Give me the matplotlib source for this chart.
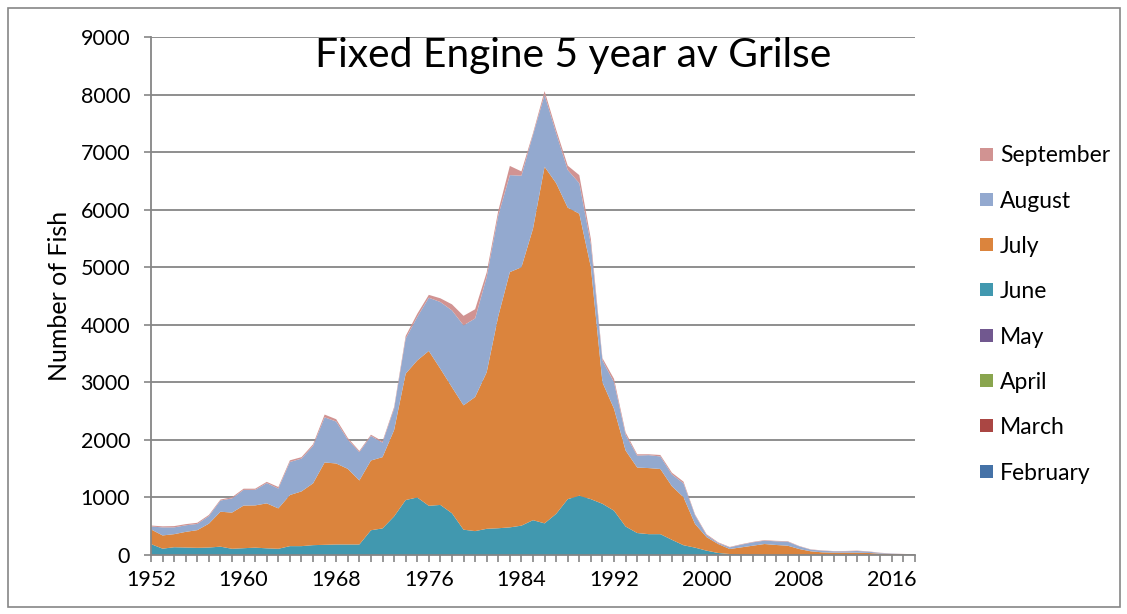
import matplotlib
matplotlib.use("Agg")
import matplotlib.pyplot as plt
from matplotlib.patches import Rectangle

years = list(range(1952, 2019))

february = [0, 0, 0, 0, 0, 0, 0, 0, 0, 0, 0, 0, 0, 0, 0, 0, 0, 0, 0, 0, 0, 0, 0, 0, 0, 0, 0, 0, 0, 0, 0, 0, 0, 0,
            0, 0, 0, 0, 0, 0, 0, 0, 0, 0, 0, 0, 0, 0, 0, 0, 0, 0, 0, 0, 0, 0, 0, 0, 0, 0, 0, 0, 0, 0, 0, 0, 0]
march = [0, 0, 0, 0, 0, 0, 0, 0, 0, 0, 0, 0, 0, 0, 0, 0, 0, 0, 0, 0, 0, 0, 0, 0, 0, 0, 0, 0, 0, 0, 0, 0, 0, 0,
         0, 0, 0, 0, 0, 0, 0, 0, 0, 0, 0, 0, 0, 0, 0, 0, 0, 0, 0, 0, 0, 0, 0, 0, 0, 0, 0, 0, 0, 0, 0, 0, 0]
april = [0, 0, 0, 0, 0, 0, 0, 0, 0, 0, 0, 0, 0, 0, 0, 0, 0, 0, 0, 0, 0, 0, 0, 0, 0, 0, 0, 0, 0, 0, 0, 0, 0, 0,
         0, 0, 0, 0, 0, 0, 0, 0, 0, 0, 0, 0, 0, 0, 0, 0, 0, 0, 0, 0, 0, 0, 0, 0, 0, 0, 0, 0, 0, 0, 0, 0, 0]
may = [0, 0, 0, 0, 0, 0, 0, 0, 0, 0, 0, 0, 0, 0, 0, 0, 0, 0, 0, 0, 0, 0, 0, 0, 0, 0, 0, 0, 0, 0, 0, 0, 0, 0,
       0, 0, 0, 0, 0, 0, 0, 0, 0, 0, 0, 0, 0, 0, 0, 0, 0, 0, 0, 0, 0, 0, 0, 0, 0, 0, 0, 0, 0, 0, 0, 0, 0]
june = [190, 110, 135, 130, 125, 130, 145, 108, 118, 128, 116, 108, 154, 154, 171, 177, 183, 183, 183, 430,
        462, 670, 955, 1000, 855, 870, 725, 440, 415, 455, 465, 480, 510, 605, 550, 715, 970, 1030, 970, 890,
        770, 495, 382, 362, 362, 264, 170, 128, 75, 35, 17, 10, 5, 3, 2, 2, 1, 0, 0, 0, 0, 0, 0, 0, 0, 0, 0]
july = [255, 230, 227, 272, 307, 415, 607, 629, 741, 734, 781, 702, 888, 951, 1074, 1431, 1407, 1314, 1112,
        1212, 1238, 1500, 2195, 2380, 2690, 2365, 2190, 2160, 2330, 2720, 3685, 4435, 4490, 5065, 6195, 5745,
        5065, 4900, 4030, 2110, 1770, 1320, 1138, 1148, 1133, 931, 835, 411, 235, 156, 87, 123, 157, 188, 172,
        160, 103, 64, 46, 41, 41, 41, 35, 23, 17, 12, 6]
august = [50, 140, 118, 114, 108, 131, 194, 247, 272, 270, 353, 345, 574, 570, 650, 784, 729, 508, 493, 427,
          253, 370, 610, 755, 925, 1160, 1335, 1390, 1365, 1655, 1750, 1685, 1590, 1630, 1250, 870, 655, 530,
          400, 380, 460, 275, 207, 225, 217, 205, 240, 151, 35, 18, 29, 47, 58, 58, 64, 70, 47, 29, 29, 23, 23,
          29, 23, 12, 6, 5, 6]
september = [17, 18, 22, 20, 20, 20, 17, 20, 21, 20, 21, 26, 29, 25, 29, 48, 40, 29, 20, 21, 23, 30, 45, 55,
             50, 65, 105, 165, 160, 80, 80, 160, 75, 30, 65, 60, 75, 140, 90, 40, 60, 40, 23, 15, 26, 30, 30,
             15, 15, 11, 7, 8, 8, 9, 8, 8, 6, 5, 5, 4, 6, 6, 5, 4, 3, 2, 1]

series_names = ["February", "March", "April", "May", "June", "July", "August", "September"]
series_colors = ["#4572A7", "#AA4643", "#89A54E", "#71588F", "#4198AF", "#DB843D", "#93A9CF", "#D19392"]
xtick_years = [1952, 1960, 1968, 1976, 1984, 1992, 2000, 2008, 2016]
ytick_vals = [0, 1000, 2000, 3000, 4000, 5000, 6000, 7000, 8000, 9000]

W, H = 1127, 614
FONT = "Lato"
GRAY = "#868686"

fig = plt.figure(figsize=(W / 100, H / 100), dpi=100)
fig.patch.set_facecolor("white")

# outer chart border
fig.patches.append(Rectangle((8 / W, 1 - 607 / H), (1120 - 8) / W, (607 - 8) / H,
                             transform=fig.transFigure, fill=False, edgecolor=GRAY, linewidth=1.2))

ax = fig.add_axes([151 / W, 1 - 555 / H, (915 - 151) / W, (555 - 37) / H])
ax.stackplot(years, february, march, april, may, june, july, august, september,
             colors=series_colors, linewidth=0, labels=series_names)

ax.set_xlim(1952, 2018)
ax.set_ylim(0, 9000)
ax.set_yticks(ytick_vals)
ax.set_yticklabels([str(v) for v in ytick_vals], fontfamily=FONT, fontsize=15.5)
ax.set_xticks(xtick_years)
ax.set_xticklabels([str(v) for v in xtick_years], fontfamily=FONT, fontsize=15.5)
ax.set_xticks(years, minor=True)

ax.yaxis.grid(True, color=GRAY, linewidth=1.3)
ax.set_axisbelow(True)
for s in ["top", "right"]:
    ax.spines[s].set_visible(False)
for s in ["left", "bottom"]:
    ax.spines[s].set_color(GRAY)
    ax.spines[s].set_linewidth(1.3)
    ax.spines[s].set_zorder(5)

ax.tick_params(axis="y", which="major", direction="out", length=5, width=1.2, color=GRAY, pad=10)
ax.tick_params(axis="x", which="both", direction="out", length=5, width=1.2, color=GRAY, pad=6)

ax.set_ylabel("Number of Fish", fontfamily=FONT, fontsize=18, labelpad=7)

fig.text(573 / W, 1 - 56 / H, "Fixed Engine 5 year av Grilse", fontfamily=FONT, fontsize=29.3,
         ha="center", va="center")

# legend (September on top down to February)
top_y = 154
step = 45.3
for i, (name, col) in enumerate(zip(series_names[::-1], series_colors[::-1])):
    yc = top_y + i * step
    fig.patches.append(Rectangle((980 / W, 1 - (yc + 6.5) / H), 13 / W, 13 / H,
                                 transform=fig.transFigure, facecolor=col, edgecolor="none"))
    fig.text(1000 / W, 1 - yc / H, name, fontfamily=FONT, fontsize=16.5, ha="left", va="center_baseline")

fig.savefig("out.png", dpi=100, facecolor="white")
